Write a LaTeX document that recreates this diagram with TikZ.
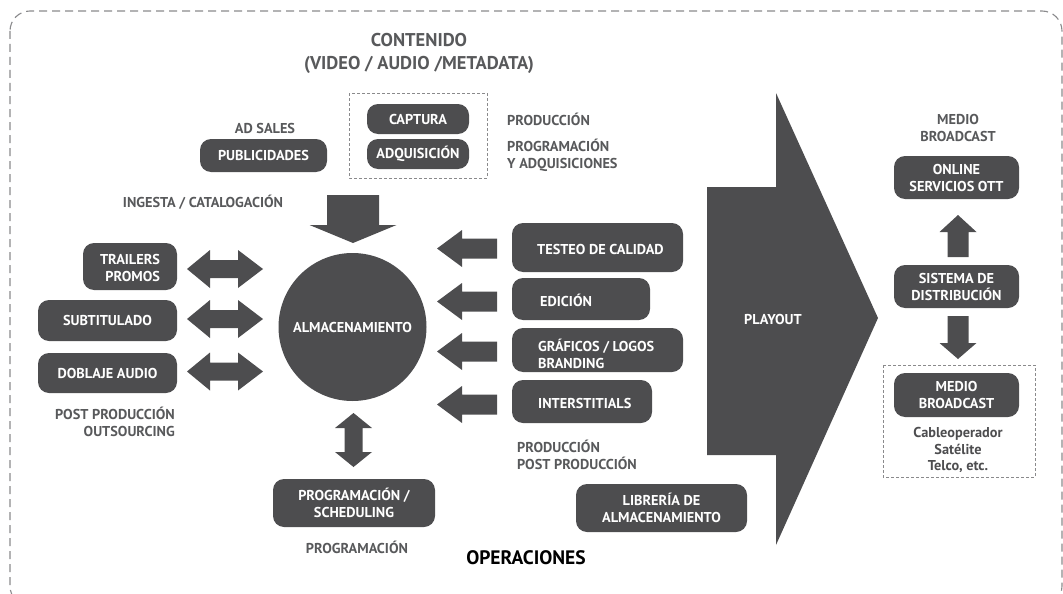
\documentclass[tikz,border=0pt]{standalone}
\usepackage{fontspec}
\setmainfont{PT Sans}
\definecolor{dk}{HTML}{4D4D4F}
\definecolor{lbl}{HTML}{58595B}
\definecolor{rim}{HTML}{8A8A8C}
\tikzset{
  boxfont/.style={font=\bfseries\fontsize{14.3}{17}\selectfont},
  box/.style={fill=dk, text=white, rounded corners=11pt, align=center, inner sep=0pt, boxfont},
  boxtext/.style={text=white, align=left, inner sep=0pt, anchor=west, boxfont},
  lbl/.style={text=lbl, align=center, inner sep=0pt, boxfont},
  smalldash/.style={draw=rim, line width=0.9pt, dash pattern=on 3pt off 2pt},
  blk/.style={fill=dk},
  % block arrow pointing left, tip at the pic origin
  pics/leftarrow/.style={code={
    \fill[blk] (0,0) -- (25,18.5) -- (25,10) -- (60,10) -- (60,-10) -- (25,-10) -- (25,-18.5) -- cycle;}},
  % horizontal two-headed block arrow, left tip at the pic origin
  pics/hdouble/.style={code={
    \fill[blk] (0,0) -- (23,-19) -- (23,-9) -- (51,-9) -- (51,-19) -- (76,0)
      -- (51,19) -- (51,9) -- (23,9) -- (23,19) -- cycle;}},
}
\begin{document}
\begin{tikzpicture}[x=1pt,y=-1pt]
\useasboundingbox (0,0) rectangle (1063,594);

% outer frame
\draw[draw=rim, line width=1.1pt, dash pattern=on 8pt off 5pt, rounded corners=20pt]
  (10,11) rectangle (1062,606);

% headings
\node[lbl, font=\bfseries\fontsize{18.5}{23}\selectfont] (contenido) at (419,53.5)
  {CONTENIDO\\(VIDEO / AUDIO /METADATA)};
\node[inner sep=0pt, text=black, font=\bfseries\fontsize{19.5}{20}\selectfont] (operaciones) at (526,558) {OPERACIONES};

% content sources
\draw[smalldash] (349,93) rectangle (487,178);
\node[box, minimum width=102, minimum height=30] (captura) at (418,119) {CAPTURA};
\node[box, minimum width=102, minimum height=30] (adquisicion) at (418,154) {ADQUISICIÓN};
\node[lbl, anchor=west] (produccion) at (507,119) {PRODUCCIÓN};
\node[lbl, anchor=west, align=left] (progadq) at (507,155.5) {PROGRAMACIÓN\\Y ADQUISICIONES};

\node[lbl] (adsales) at (265,128) {AD SALES};
\node[box, minimum width=127, minimum height=33] (publicidades) at (263.5,155.5) {PUBLICIDADES};
\node[lbl] (ingesta) at (203,202) {INGESTA / CATALOGACIÓN};

% central storage
\node[circle, fill=dk, minimum size=148, inner sep=0pt, text=white, boxfont] (almac) at (352.5,327) {ALMACENAMIENTO};

% ingest arrow into storage
\fill[blk] (327,195) -- (379,195) -- (379,225) -- (396.5,225) -- (353,243) -- (309.5,225) -- (327,225) -- cycle;

% post production on the left
\node[box, minimum width=94, minimum height=47] (trailers) at (130,266.5) {};
\node[boxtext, anchor=center, align=right] at (130,268) {TRAILERS\\PROMOS};
\node[box, minimum width=139, minimum height=41] (subtitulado) at (107.5,320.5) {SUBTITULADO};
\node[box, minimum width=139, minimum height=40] (doblaje) at (107.5,373) {DOBLAJE AUDIO};
\node[lbl, anchor=east, align=right] (postprod) at (175,421.5) {POST PRODUCCIÓN\\OUTSOURCING};

\pic at (187,269) {hdouble};
\pic at (187,319) {hdouble};
\pic at (187,371.5) {hdouble};

% production services on the right
\node[box, minimum width=171, minimum height=49] (testeo) at (597.5,247.5) {};
\node[boxtext] at (537,249) {TESTEO DE CALIDAD};
\node[box, minimum width=138, minimum height=42] (edicion) at (581,299) {};
\node[boxtext] at (540,300) {EDICIÓN};
\node[box, minimum width=171, minimum height=44] (graficos) at (597.5,350) {};
\node[boxtext] at (538,354) {GRÁFICOS / LOGOS\\BRANDING};
\node[box, minimum width=140, minimum height=43] (inter) at (582,401.5) {};
\node[boxtext] at (538,403) {INTERSTITIALS};
\node[lbl, anchor=west, align=left] (prodpost) at (517,455) {PRODUCCIÓN\\POST PRODUCCIÓN};

\pic at (437,248.5) {leftarrow};
\pic at (437,301.5) {leftarrow};
\pic at (437,351.5) {leftarrow};
\pic at (437,404.5) {leftarrow};

% scheduling below storage
\fill[blk] (353.5,413) -- (372,428) -- (362.5,428) -- (362.5,452) -- (372,452) -- (353.5,467)
  -- (335,452) -- (344.5,452) -- (344.5,428) -- (335,428) -- cycle;
\node[box, minimum width=162, minimum height=48] (scheduling) at (354,503) {PROGRAMACIÓN /\\SCHEDULING};
\node[lbl] (programacion) at (357,547) {PROGRAMACIÓN};

\node[box, minimum width=171, minimum height=48] (libreria) at (661.5,508) {LIBRERÍA DE\\ALMACENAMIENTO};

% playout
\fill[blk] (707,187) -- (776,187) -- (776,93) -- (878,318) -- (776,545) -- (776,455) -- (707,455) -- cycle;
\node[text=white, inner sep=0pt, boxfont] (playout) at (773,319) {PLAYOUT};

% distribution
\node[lbl] (medio1) at (958,127.5) {MEDIO\\BROADCAST};
\node[box, minimum width=125, minimum height=43] (online) at (956.5,177.5) {ONLINE\\SERVICIOS OTT};
\node[box, minimum width=125, minimum height=43] (sistema) at (956.5,286.5) {SISTEMA DE\\DISTRIBUCIÓN};
\draw[smalldash] (883,365) rectangle (1035,477);
\node[box, minimum width=125, minimum height=44] (medio2) at (956.5,395) {MEDIO\\BROADCAST};
\node[inner sep=0pt, align=center, text=dk, font=\bfseries\fontsize{14.3}{16.5}\selectfont] (operadores) at (958,450)
  {Cableoperador\\Satélite\\Telco, etc.};

\fill[blk] (958,215) -- (976.5,232) -- (968.5,232) -- (968.5,257) -- (947.5,257) -- (947.5,232) -- (939.5,232) -- cycle;
\fill[blk] (947.5,316) -- (968.5,316) -- (968.5,343) -- (976.5,343) -- (958,359) -- (939.5,343) -- (947.5,343) -- cycle;
\end{tikzpicture}
\end{document}
